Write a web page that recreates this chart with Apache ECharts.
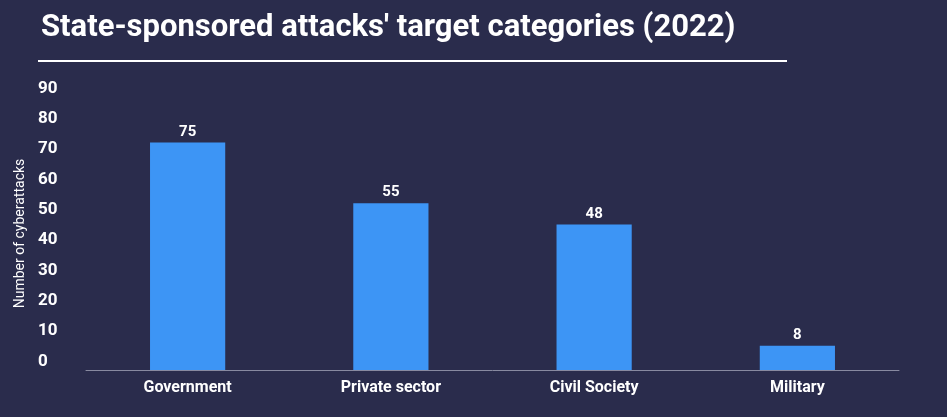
<!DOCTYPE html>
<html><head><meta charset="utf-8">
<script src="https://cdn.jsdelivr.net/npm/echarts@6/dist/echarts.min.js"></script>
<style>html,body{margin:0;padding:0;background:#2a2c4c;}#c{width:947px;height:417px;}</style>
</head><body><div id="c"></div>
<script>
const categories = ["Government", "Private sector", "Civil Society", "Military"];
const values = [75, 55, 48, 8];
const chart = echarts.init(document.getElementById('c'));
chart.setOption({
  backgroundColor: '#2a2c4c',
  title: {
    text: "State-sponsored attacks' target categories (2022)",
    left: 36, top: 8,
    textStyle: {color: '#fff', fontSize: 31, fontWeight: 'bold', fontFamily: 'Roboto'}
  },
  graphic: [{type: 'line', shape: {x1: 38, y1: 61, x2: 787, y2: 61}, style: {stroke: '#fff', lineWidth: 2}}],
  grid: {left: 86, right: 48, top: 97, bottom: 47},
  xAxis: {
    type: 'category', data: categories,
    axisLine: {lineStyle: {color: '#888aa0'}}, axisTick: {show: false},
    axisLabel: {color: '#fff', fontSize: 16, fontWeight: 'bold', fontFamily: 'Roboto', margin: 10}
  },
  yAxis: {
    type: 'value', min: 0, max: 90, interval: 10,
    name: 'Number of cyberattacks', nameLocation: 'middle', nameGap: 38,
    nameTextStyle: {color: '#fff', fontSize: 14, fontFamily: 'Roboto'},
    splitLine: {show: false}, axisLine: {show: false}, axisTick: {show: false},
    axisLabel: {color: '#fff', fontSize: 17, fontWeight: 'bold', fontFamily: 'Roboto', align: 'left', margin: 48, verticalAlign: 'bottom'}
  },
  series: [{
    type: 'bar', data: values, barWidth: '37%',
    itemStyle: {color: '#3d95f5'},
    label: {show: true, position: 'top', color: '#fff', fontSize: 15, fontWeight: 'bold', fontFamily: 'Roboto', distance: 3}
  }]
});
</script></body></html>
